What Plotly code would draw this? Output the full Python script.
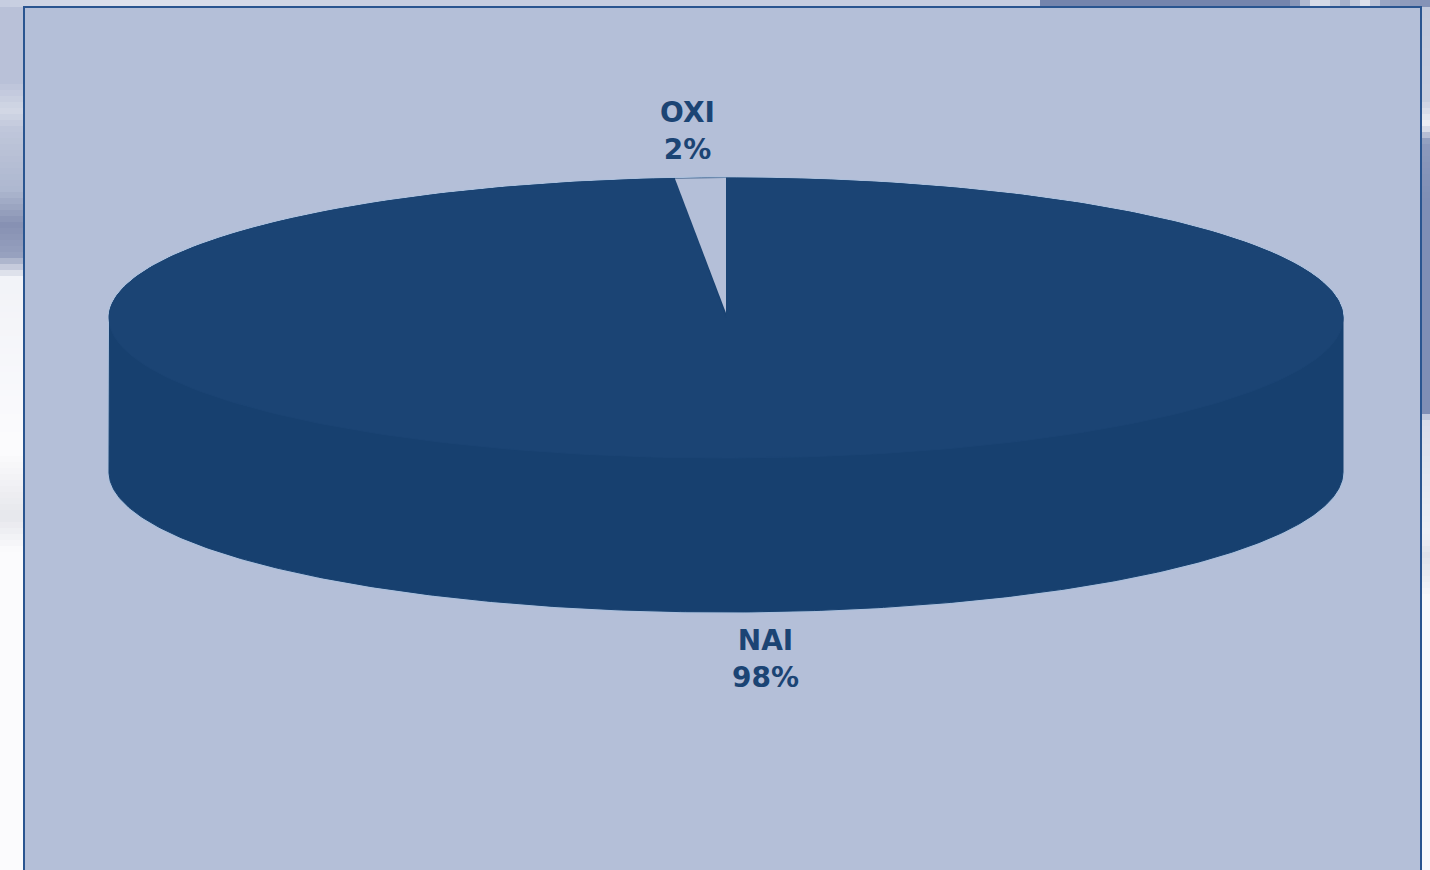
import numpy as np
import plotly.graph_objects as go

# ---- data ----
categories = ["NAI", "OXI"]
values = [98, 2]
percent_labels = ["98%", "2%"]

# ---- geometry of the tilted disc, in page pixels ----
CX, CY, RX, RY = 726, 318, 617, 140
DEPTH = 154
FAR_SIDE_FORESHORTENING = 0.66  # the far rim of the tilted disc is squeezed

BG = "#fbfbfe"
PANEL = "#b4bfd8"
TOP = "#1b4474"
SIDE = "#17406f"
HALO = "#a9bfdc"
BORDER = "#2a5590"
TEXT = "#1b4474"

# backdrop colour stops (position, colour) for the three visible margins
LEFT_STOPS = [(0, "#b9c1d8"), (80, "#b9c1d8"), (110, "#d3d8e6"), (130, "#c0c7db"), (190, "#aeb8d0"),
              (225, "#8791b3"), (255, "#97a1bf"), (278, "#f2f3f8"), (450, "#fcfcfe"), (517, "#e6e7ec"),
              (550, "#fbfbfd"), (870, "#fbfbfe")]
RIGHT_STOPS = [(0, "#c2c9dc"), (100, "#c8cfe0"), (125, "#f0f1f6"), (142, "#8e9bbd"), (200, "#7f8eb5"),
               (414, "#7f8eb5"), (418, "#d8dcea"), (535, "#eef0f6"), (555, "#dfe2ea"), (600, "#f8f9fc"),
               (870, "#f8f9fc")]
TOP_STOPS = [(0, "#c6cde0"), (130, "#dfe3ee"), (400, "#c6cde0"), (1038, "#c6cde0"), (1042, "#7585ad"),
             (1290, "#7585ad"), (1318, "#e4e7f0"), (1345, "#a6b1cb"), (1365, "#dde1ec"), (1385, "#9aa6c4"),
             (1430, "#8391b6")]


def hex_rgb(h):
    return np.array([int(h[i:i + 2], 16) for i in (1, 3, 5)], float)


def gradient_cells(stops, step):
    pos = [p for p, _ in stops]
    rgb = np.array([hex_rgb(c) for _, c in stops])
    out = []
    for a in range(pos[0], pos[-1], step):
        m = a + step / 2
        col = [np.interp(m, pos, rgb[:, k]) for k in range(3)]
        out.append((a, a + step, "rgb(%d,%d,%d)" % tuple(col)))
    return out


def rim(a0, a1, n=360, dy=0.0):
    t = np.radians(np.linspace(a0, a1, n))
    return CX + RX * np.sin(t), CY + dy - RY * np.cos(t)


fig = go.Figure()

shapes = [dict(type="rect", x0=0, y0=a, x1=24, y1=b, fillcolor=c, line_width=0, layer="below")
          for a, b, c in gradient_cells(LEFT_STOPS, 6)]
shapes += [dict(type="rect", x0=1421, y0=a, x1=1430, y1=b, fillcolor=c, line_width=0, layer="below")
           for a, b, c in gradient_cells(RIGHT_STOPS, 6)]
shapes += [dict(type="rect", x0=a, y0=0, x1=b, y1=7, fillcolor=c, line_width=0, layer="below")
           for a, b, c in gradient_cells(TOP_STOPS, 10)]
shapes.append(dict(type="rect", x0=24, y0=7, x1=1421, y1=880, fillcolor=PANEL,
                   line=dict(color=BORDER, width=2), layer="below"))

# side wall of the disc
x_f, y_f = rim(90, 270, dy=DEPTH)
x_b, y_b = rim(270, 450)
x_side = np.r_[x_f, x_b]
y_side = np.r_[y_f, y_b]
fig.add_trace(go.Scatter(x=x_side, y=y_side, mode="lines", line=dict(color=HALO, width=3),
                         hoverinfo="skip", showlegend=False))
fig.add_trace(go.Scatter(x=np.r_[x_side, x_side[0]], y=np.r_[y_side, y_side[0]], mode="lines",
                         fill="toself", fillcolor=SIDE, line=dict(color=SIDE, width=1),
                         hoverinfo="skip", showlegend=False))

# top face: NAI sector runs clockwise from 12 o'clock, OXI is the notch left open
total = sum(values)
nai_sweep = 360 - values[1] / total * 360 * FAR_SIDE_FORESHORTENING
x_t, y_t = rim(0, nai_sweep)
fig.add_trace(go.Scatter(x=np.r_[CX, x_t, CX], y=np.r_[CY, y_t, CY], mode="lines", fill="toself",
                         fillcolor=TOP, line=dict(color=TOP, width=1), hoverinfo="skip",
                         showlegend=False, name=categories[0]))
# the OXI notch shows the panel colour
x_n, y_n = rim(nai_sweep, 360, n=20)
fig.add_trace(go.Scatter(x=np.r_[CX, x_n, CX], y=np.r_[CY - 5, y_n, CY - 5], mode="lines", fill="toself",
                         fillcolor=PANEL, line=dict(color=PANEL, width=0), hoverinfo="skip",
                         showlegend=False, name=categories[1]))

# labels
fig.add_trace(go.Scatter(
    x=[765.5, 687.5], y=[661.5, 133.5], mode="text",
    text=[f"{c}<br>{p}" for c, p in zip(categories, percent_labels)],
    textposition="middle center",
    textfont=dict(family="DejaVu Sans", size=28, color=TEXT, weight="bold"),
    hoverinfo="skip", showlegend=False))

fig.update_layout(
    width=1430, height=870, margin=dict(l=0, r=0, t=0, b=0),
    paper_bgcolor=BG, plot_bgcolor=BG, shapes=shapes,
    xaxis=dict(range=[0, 1430], visible=False, fixedrange=True),
    yaxis=dict(range=[870, 0], visible=False, fixedrange=True),
)
fig.write_html("out.html", config=dict(displayModeBar=False),
               post_script="document.body.style.margin='0';document.body.style.overflow='hidden';")
